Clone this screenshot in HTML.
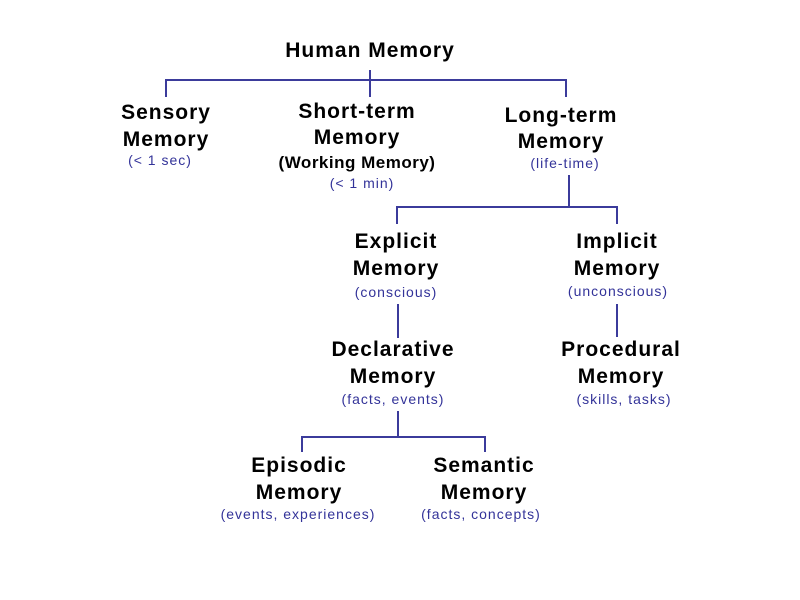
<!DOCTYPE html>
<html><head><meta charset="utf-8"><style>
body{margin:0;background:#fff;}
#c{position:relative;width:800px;height:600px;overflow:hidden;background:#fff;}
.t{position:absolute;width:300px;text-align:center;font-family:"Liberation Sans",Arial,sans-serif;white-space:nowrap;}
.b{font-weight:bold;font-size:21px;letter-spacing:1px;color:#000;line-height:24px;}
.s{font-size:14px;letter-spacing:1px;color:#333399;line-height:16px;}
.w{font-weight:bold;font-size:17px;letter-spacing:0.5px;color:#000;line-height:20px;}
</style></head><body><div id="c">
<svg width="800" height="600" style="position:absolute;left:0;top:0" fill="none" stroke="#3b3b9b" stroke-width="2">
<path d="M370 70V80M166 97V80H566V97M370 80V97"/>
<path d="M569 175V207M397 224V207H617V224"/>
<path d="M398 304V338M617 304V337"/>
<path d="M398 411V437M302 452V437H485V452"/>
</svg>
<div class="t b" style="left:220px;top:39px">Human Memory</div>
<div class="t b" style="left:16px;top:101px">Sensory</div>
<div class="t b" style="left:16px;top:128px">Memory</div>
<div class="t s" style="left:10px;top:152px">(&lt; 1 sec)</div>
<div class="t b" style="left:207px;top:100px">Short-term</div>
<div class="t b" style="left:207px;top:126px">Memory</div>
<div class="t w" style="left:207px;top:153px">(Working Memory)</div>
<div class="t s" style="left:212px;top:175px">(&lt; 1 min)</div>
<div class="t b" style="left:411px;top:104px">Long-term</div>
<div class="t b" style="left:411px;top:130px">Memory</div>
<div class="t s" style="left:415px;top:155px">(life-time)</div>
<div class="t b" style="left:246px;top:230px">Explicit</div>
<div class="t b" style="left:246px;top:257px">Memory</div>
<div class="t s" style="left:246px;top:284px">(conscious)</div>
<div class="t b" style="left:467px;top:230px">Implicit</div>
<div class="t b" style="left:467px;top:257px">Memory</div>
<div class="t s" style="left:468px;top:283px">(unconscious)</div>
<div class="t b" style="left:243px;top:338px">Declarative</div>
<div class="t b" style="left:243px;top:365px">Memory</div>
<div class="t s" style="left:243px;top:391px">(facts, events)</div>
<div class="t b" style="left:471px;top:338px">Procedural</div>
<div class="t b" style="left:471px;top:365px">Memory</div>
<div class="t s" style="left:474px;top:391px">(skills, tasks)</div>
<div class="t b" style="left:149px;top:454px">Episodic</div>
<div class="t b" style="left:149px;top:481px">Memory</div>
<div class="t s" style="left:148px;top:506px">(events, experiences)</div>
<div class="t b" style="left:334px;top:454px">Semantic</div>
<div class="t b" style="left:334px;top:481px">Memory</div>
<div class="t s" style="left:331px;top:506px">(facts, concepts)</div>
</div></body></html>
